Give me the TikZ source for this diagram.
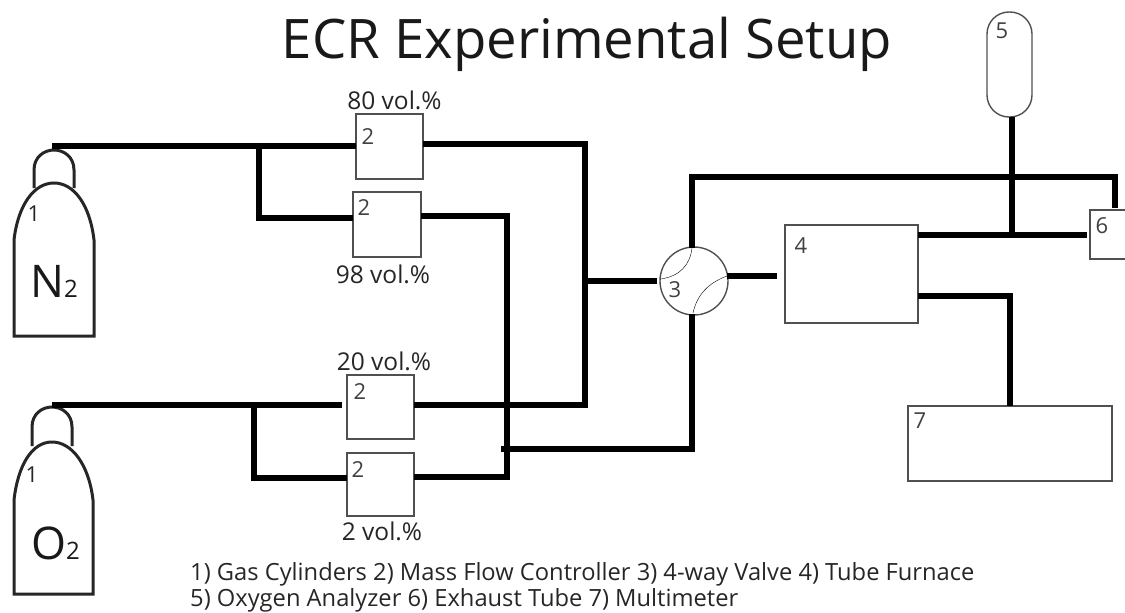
\documentclass[tikz,border=0pt]{standalone}
\usepackage{fontspec}
\setmainfont{Open Sans}
\setsansfont{Open Sans}
\usetikzlibrary{calc}
\definecolor{thin}{RGB}{80,80,80}
\tikzset{
 x=1pt,y=-1pt,
 pipe/.style={line width=5.5pt,black,line join=miter},
 outline/.style={line width=1.6pt,thin},
 cyl/.style={line width=3pt,black!85},
 lbl/.style={font=\fontsize{22}{24}\selectfont,text=black!75,inner sep=0pt},
 vol/.style={font=\fontsize{24.5}{26}\selectfont,text=black!85,inner sep=0pt},
 boxx/.style={draw=thin,line width=1.4pt,fill=white,inner sep=0pt,outer sep=0pt},
}
\newcommand{\mybox}[5]{\node[boxx,anchor=north west,minimum width=#4pt,minimum height=#5pt] (#1) at (#2,#3) {};}
\begin{document}
\begin{tikzpicture}
\useasboundingbox (0,0) rectangle (1125,613);
\mybox{mfca}{356}{114}{67}{65}
\mybox{mfcb}{353}{192}{68}{65}
\mybox{mfcc}{347}{375}{67}{64}
\mybox{mfcd}{347}{453}{67}{63}
\mybox{furn}{785}{225}{133}{98}
\mybox{mult}{908}{406}{204}{75}
\mybox{exh}{1090}{210}{45}{49}
\node[draw=thin,line width=1.4pt,rounded corners=22pt,minimum width=45pt,minimum height=105pt,inner sep=0pt,outer sep=0pt] (ana) at (1009.5,64.5) {};
\node[draw=thin,line width=1.4pt,circle,minimum size=68pt,inner sep=0pt,outer sep=0pt] (valve) at (694,281) {};
% cylinders
\coordinate (nout) at (52,146);
\coordinate (oout) at (52,405);
\draw[cyl] (14,336) -- (14,240) .. controls (18,205) and (34,183) .. (54,183) .. controls (74,183) and (90,205) .. (94,240) -- (94,336) -- cycle;
\draw[cyl] (34,188) -- (34,170) .. controls (34,157) and (44,150) .. (54,150) .. controls (64,150) and (74,157) .. (74,170) -- (74,188);
\draw[cyl] (14,594) -- (14,500) .. controls (18,465) and (32,442) .. (52,442) .. controls (72,442) and (89,465) .. (93,500) -- (93,594) -- cycle;
\draw[cyl] (32,446) -- (32,427) .. controls (32,414) and (42,407) .. (52,407) .. controls (62,407) and (72,414) .. (72,427) -- (72,446);
% pipes
\coordinate (jna) at (259,146);
\coordinate (jnb) at (585,144);
\coordinate (jnc) at (585,281);
\coordinate (job) at (254,405);
\coordinate (jb) at (507,216);
\coordinate (jd) at (507,477);
\draw[pipe] (nout) -- (mfca.west |- nout);
\draw[pipe] (jna) |- (mfcb.west |- 0,218);
\draw[pipe] (mfca.east |- jnb) -- (jnb) -- (585,405) -- (mfcc.east |- 0,405);
\draw[pipe] (jnc) -- (657,281);
\draw[pipe] (mfcb.east |- jb) -- (jb) -- (jd) -- (mfcd.east |- jd);
\draw[pipe] (oout) -- (342,405);
\draw[pipe] (job) |- (mfcd.west |- 0,478);
\draw[pipe] (501,449) -| (692,314);
\draw[pipe] (692,248) |- (1115,177) -- (1115,208);
\draw[pipe] (727,276) -- (777,276);
\draw[pipe] (furn.east |- 0,235) -- (1087,235);
\draw[pipe] (ana.south -| 1012,0) -- (1012,235);
\draw[pipe] (furn.east |- 0,296) -- (1010,296) -- (mult.north -| 1010,0);
% valve inside
\draw[outline] (692,248) .. controls (690,265) and (680,276) .. (661,279);
\draw[outline] (693,313) .. controls (697,295) and (708,283) .. (727,276);
% labels
\node[font=\fontsize{54.5}{60}\selectfont,text=black!90,inner sep=0pt] (title) at (587,44) {ECR Experimental Setup};
\node[vol] (v80) at (394.5,100) {80 vol.\%};
\node[vol] (v98) at (383,274) {98 vol.\%};
\node[vol] (v20) at (384,361) {20 vol.\%};
\node[vol] (v2) at (382,531) {2 vol.\%};
\node[lbl] at (368,137) {2};
\node[lbl] at (364,208) {2};
\node[lbl] at (360,392) {2};
\node[lbl] at (358,470) {2};
\node[lbl] at (675,290) {3};
\node[lbl] at (801,246) {4};
\node[lbl] at (1002,31) {5};
\node[lbl] at (1102,226) {6};
\node[lbl] at (920,421) {7};
\node[lbl,text=black!85] at (34,214) {1};
\node[lbl,text=black!85] at (32,475) {1};
\node[inner sep=0pt,anchor=base west,text=black!90] at (30,297) {\fontsize{45}{48}\selectfont N\fontsize{24}{26}\selectfont 2};
\node[inner sep=0pt,anchor=base west,text=black!90] at (31,559) {\fontsize{45}{48}\selectfont O\fontsize{24}{26}\selectfont 2};
\node[inner sep=0pt,anchor=base west,font=\fontsize{23.7}{26}\selectfont,text=black!85] at (190,580) {1) Gas Cylinders 2) Mass Flow Controller 3) 4-way Valve 4) Tube Furnace};
\node[inner sep=0pt,anchor=base west,font=\fontsize{23.7}{26}\selectfont,text=black!85] at (190,606) {5) Oxygen Analyzer 6) Exhaust Tube 7) Multimeter};
\end{tikzpicture}
\end{document}
